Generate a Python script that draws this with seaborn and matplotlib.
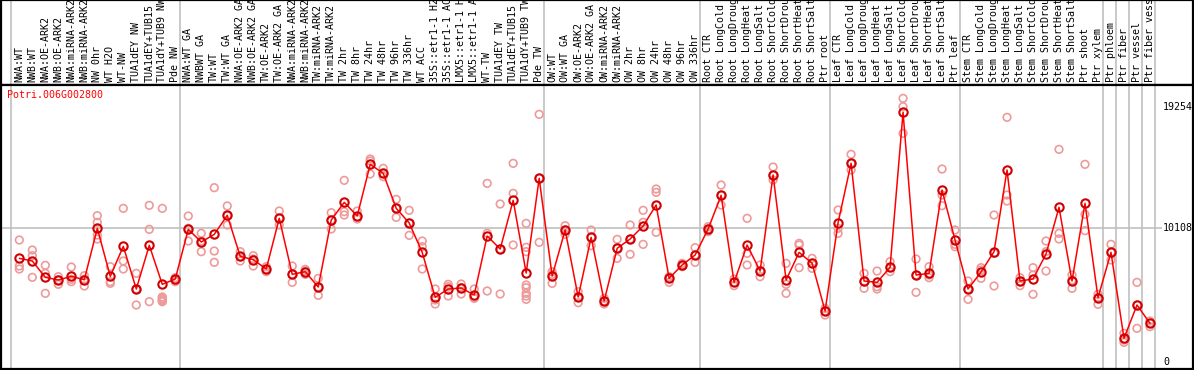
import numpy as np
import pandas as pd
import seaborn as sns
import matplotlib
matplotlib.use('Agg')
import matplotlib.pyplot as plt
import matplotlib.transforms as mtransforms

sns.set_style('white')
plt.rcParams['font.family'] = ['DejaVu Sans Mono', 'DejaVu Sans']

## sample names (cut to 14 characters like in the original)
labels = ['NWA:WT', 'NWB:WT', 'NWA:OE-ARK2', 'NWB:OE-ARK2', 'NWA:miRNA-ARK2', 'NWB:miRNA-ARK2',
          'NW 0hr', 'WT H2O', 'WT-NW', 'TUA1dEY NW', 'TUA1dEY+TUB15', 'TUA1dY+TUB9 NW', 'Pde NW',
          'NWA:WT GA', 'NWBWT GA', 'TW:WT', 'TW:WT GA', 'NWA:OE-ARK2 GA', 'NWB:OE-ARK2 GA',
          'TW:OE-ARK2', 'TW:OE-ARK2 GA', 'NWA:miRNA-ARK2', 'NWB:miRNA-ARK2', 'TW:miRNA-ARK2',
          'TW:miRNA-ARK2', 'TW 2hr', 'TW 8hr', 'TW 24hr', 'TW 48hr', 'TW 96hr', 'TW 336hr', 'WT ACC',
          '35S::etr1-1 H2', '35S::etr1-1 AC', 'LMX5::etr1-1 H', 'LMX5::etr1-1 A', 'WT-TW',
          'TUA1dEY TW', 'TUA1dEY+TUB15', 'TUA1dY+TUB9 TW', 'Pde TW',
          'OW:WT', 'OW:WT GA', 'OW:OE-ARK2', 'OW:OE-ARK2 GA', 'OW:miRNA-ARK2', 'OW:miRNA-ARK2',
          'OW 2hr', 'OW 8hr', 'OW 24hr', 'OW 48hr', 'OW 96hr', 'OW 336hr',
          'Root CTR', 'Root LongCold', 'Root LongDroug', 'Root LongHeat', 'Root LongSalt',
          'Root ShortCold', 'Root ShortDrou', 'Root ShortHeat', 'Root ShortSalt', 'Ptr root',
          'Leaf CTR', 'Leaf LongCold', 'Leaf LongDroug', 'Leaf LongHeat', 'Leaf LongSalt',
          'Leaf ShortCold', 'Leaf ShortDrou', 'Leaf ShortHeat', 'Leaf ShortSalt', 'Ptr leaf',
          'Stem CTR', 'Stem LongCold', 'Stem LongDroug', 'Stem LongHeat', 'Stem LongSalt',
          'Stem ShortCold', 'Stem ShortDrou', 'Stem ShortHeat', 'Stem ShortSalt', 'Ptr shoot',
          'Ptr xylem', 'Ptr phloem', 'Ptr fiber', 'Ptr vessel', 'Ptr fiber vess']

## group borders (after this many samples)
group_ends = [0, 13, 41, 53, 63, 73, 84, 85, 86, 87, 88]

means = [7837, 7635, 6401, 6199, 6476, 6224, 10105, 6476, 8744, 5519, 8820, 5872, 6275,
         10029, 9072, 9651, 11088, 7988, 7736, 7031, 10861, 6627, 6829, 5670, 10735, 12071,
         11037, 14943, 14263, 11617, 10508, 8291, 4889, 5519, 5594, 5065, 9525, 8543, 12222,
         6728, 13885,
         6502, 9979, 4914, 9425, 4611, 8593, 9299, 10281, 11869, 6325, 7333, 8089,
         10055, 12600, 6022, 8845, 6879, 14137, 6199, 8291, 7459, 3856,
         10533, 15019, 6123, 6022, 7157, 18875, 6577, 6703, 13003, 9223,
         5519, 6804, 8341, 14515, 6123, 6275, 8165, 11693, 6123, 11995, 4864,
         8291, 1789, 4309, 2923]

replicates = [[9223, 7258, 7031], [8467, 8039, 6401], [7308, 6703, 5191], [6451, 6199, 5872],
              [7182, 6250, 6073], [6527, 6250, 5746], [11063, 10559, 9601, 9299],
              [7207, 6073, 5947], [11617, 7635, 7031], [6703, 5519, 4309], [11844, 10029, 4561],
              [11617, 4914, 4813, 4712, 4611, 4561], [6375, 6199, 6073],
              [11037, 10105, 9147], [9727, 9147, 8341], [13179, 8391, 7534], [11794, 11063, 10357],
              [8341, 7963, 7635], [8039, 7786, 7258], [7207, 7031, 6829], [11415, 10861, 10357],
              [7258, 6627, 6022], [7006, 6879, 6627], [6325, 5670, 5040], [11289, 10735, 10055],
              [13734, 11365, 11113], [11415, 10987, 10811], [15347, 15195, 14213],
              [14641, 14263, 14011], [12297, 11617, 10937], [11466, 10508, 9576],
              [9147, 8719, 7031], [5519, 4687, 4385], [5872, 5695, 4989], [5897, 5620, 5141],
              [5519, 4864, 4813], [13507, 9727, 5367], [11945, 8543, 5141], [15019, 12751, 8845],
              [10483, 8669, 8341, 5821, 5620, 5191, 4989, 4737], [18723, 13885, 9046],
              [6829, 6627, 5947], [10306, 9979, 9651], [5317, 4914, 4486], [9979, 9425, 8795],
              [4813, 4611, 4385], [9273, 8593, 7837], [10357, 9299, 8139], [11466, 10559, 8895],
              [13079, 12826, 9803], [6451, 6325, 6022], [7459, 7333, 7207], [8643, 8089, 7534],
              [10231, 10055, 9853], [13381, 12600, 11869], [6275, 6022, 5771], [10861, 8215, 7333],
              [7333, 6879, 6451], [14742, 14137, 13759], [7459, 5872, 5191], [8971, 8845, 7131],
              [7837, 7459, 7081], [4057, 3856, 3553],
              [11491, 10105, 9727], [15699, 15019, 14515], [6703, 6073, 5569], [6879, 5695, 5519],
              [7585, 7157, 6829], [19933, 19303, 17287], [7786, 6577, 5266], [7207, 6577, 6375],
              [14591, 12625, 11819], [9979, 8895, 8719],
              [6123, 5519, 4737], [7131, 6955, 6325], [11113, 8215, 5746], [18497, 12625, 12172],
              [6375, 6073, 5771], [7131, 6577, 5116], [9147, 8341, 6879], [16077, 9727, 9299],
              [6577, 6199, 5569], [14943, 11163, 9929], [5116, 4864, 4360],
              [8895, 8291, 7711], [2167, 1663, 1487], [6022, 4309, 2545], [3099, 2923, 2671]]

gene = 'Potri.006G002800'
axis_ticks = [19254, 10108, 0]

pos = np.arange(1, len(labels) + 1)
mean_df = pd.DataFrame({'pos': pos, 'value': means})
rep_df = pd.DataFrame([(p, v) for p, vals in zip(pos, replicates) for v in vals],
                      columns=['pos', 'value'])

W, H = 1194, 370
fig = plt.figure(figsize=(W / 100, H / 100), dpi=100)
ax_head = fig.add_axes([1 / W, 1 - 85 / H, 1192 / W, 85 / H])
ax = fig.add_axes([1 / W, 1 / H, 1192 / W, 284 / H], sharex=ax_head)

xmin, xmax = -0.41, 91.31
ax.set_xlim(xmin, xmax)
ax.set_ylim(-529, 20942)
ax_head.set_ylim(0, 1)

for a in (ax, ax_head):
    a.set_xticks([])
    a.set_yticks([])
    for s in a.spines.values():
        s.set_color('black')
        s.set_linewidth(1.6)
    for g in group_ends:
        a.axvline(g + 0.38, color='#c0c0c0', lw=1.2, zorder=0)

ax.hlines(10108, xmin, 88.9, color='#c0c0c0', lw=1.2, zorder=0)

sns.scatterplot(data=rep_df, x='pos', y='value', ax=ax, marker='o', s=30,
                facecolors='none', edgecolors='#ee9a9a', linewidth=1.2, zorder=2, legend=False)
sns.lineplot(data=mean_df, x='pos', y='value', ax=ax, color='#ff0000', lw=1.1,
             marker='o', markersize=6, markerfacecolor='none', markeredgecolor='#d00000',
             markeredgewidth=1.5, zorder=3)
ax.set_xlabel('')
ax.set_ylabel('')

ax.text(0.02, 20150, gene, color='#ff0000', fontsize=7.2, va='center', ha='left')

for t in axis_ticks:
    ax.text(89.0, t, str(t), fontsize=7.2, va='center', ha='left', color='black')

for p, lab in zip(pos, labels):
    ax_head.text(p, 0.03, lab, rotation=90, ha='center', va='bottom', fontsize=7.2,
                 color='black')

fig.savefig('out.png', dpi=100)
